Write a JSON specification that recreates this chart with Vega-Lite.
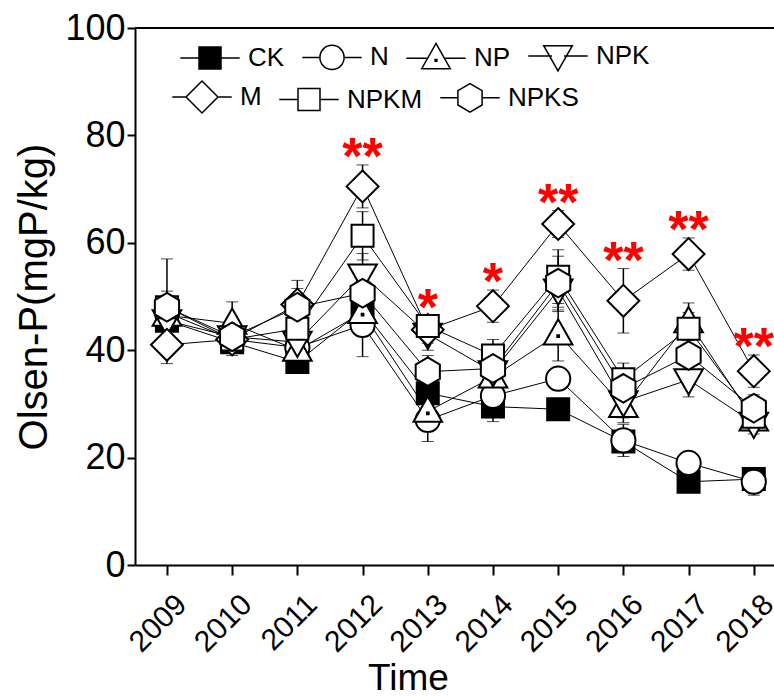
{
  "$schema": "https://vega.github.io/schema/vega-lite/v6.json",
  "autosize": {"type": "none"},
  "width": 639,
  "height": 537,
  "padding": {"left": 135, "top": 28, "right": 0, "bottom": 132},
  "background": "white",
  "config": {
    "font": "Liberation Sans",
    "view": {"stroke": null},
    "axis": {"grid": false, "domainColor": "black", "domainWidth": 2, "tickColor": "black", "tickWidth": 2, "labelColor": "black", "titleColor": "black", "titleFontWeight": "normal", "labelFont": "Liberation Sans", "titleFont": "Liberation Sans"},
    "legend": {"title": null, "orient": "none", "direction": "horizontal", "columnPadding": 14, "labelFontSize": 26, "labelFont": "Liberation Sans", "labelColor": "black", "labelOffset": 25, "symbolSize": 484, "labelLimit": 300}
  },
  "data": {"values": [
    {"treatment": "CK", "year": 2009, "value": 45.5, "sd": 2},
    {"treatment": "CK", "year": 2010, "value": 41.5, "sd": 1.5},
    {"treatment": "CK", "year": 2011, "value": 37.8, "sd": 1.5},
    {"treatment": "CK", "year": 2012, "value": 47.5, "sd": 3},
    {"treatment": "CK", "year": 2013, "value": 32, "sd": 3},
    {"treatment": "CK", "year": 2014, "value": 29.5, "sd": 2.8},
    {"treatment": "CK", "year": 2015, "value": 29, "sd": 1.5},
    {"treatment": "CK", "year": 2016, "value": 23, "sd": 2},
    {"treatment": "CK", "year": 2017, "value": 15.5, "sd": 1.5},
    {"treatment": "CK", "year": 2018, "value": 16, "sd": 1.8},
    {"treatment": "N", "year": 2009, "value": 47, "sd": 3},
    {"treatment": "N", "year": 2010, "value": 42, "sd": 2},
    {"treatment": "N", "year": 2011, "value": 40.5, "sd": 2},
    {"treatment": "N", "year": 2012, "value": 44.7, "sd": 5.9},
    {"treatment": "N", "year": 2013, "value": 27, "sd": 4},
    {"treatment": "N", "year": 2014, "value": 31.5, "sd": 2.5},
    {"treatment": "N", "year": 2015, "value": 34.7, "sd": 2},
    {"treatment": "N", "year": 2016, "value": 23.2, "sd": 3},
    {"treatment": "N", "year": 2017, "value": 19, "sd": 2},
    {"treatment": "N", "year": 2018, "value": 15.5, "sd": 2.5},
    {"treatment": "NP", "year": 2009, "value": 46.5, "sd": 3},
    {"treatment": "NP", "year": 2010, "value": 45, "sd": 4},
    {"treatment": "NP", "year": 2011, "value": 40, "sd": 3},
    {"treatment": "NP", "year": 2012, "value": 47, "sd": 3},
    {"treatment": "NP", "year": 2013, "value": 28.6, "sd": 3},
    {"treatment": "NP", "year": 2014, "value": 35, "sd": 3},
    {"treatment": "NP", "year": 2015, "value": 43, "sd": 5},
    {"treatment": "NP", "year": 2016, "value": 29.5, "sd": 3},
    {"treatment": "NP", "year": 2017, "value": 45.3, "sd": 3.5},
    {"treatment": "NP", "year": 2018, "value": 27, "sd": 2},
    {"treatment": "NPK", "year": 2009, "value": 45.5, "sd": 3},
    {"treatment": "NPK", "year": 2010, "value": 42.5, "sd": 2},
    {"treatment": "NPK", "year": 2011, "value": 41.5, "sd": 3},
    {"treatment": "NPK", "year": 2012, "value": 54, "sd": 4},
    {"treatment": "NPK", "year": 2013, "value": 43, "sd": 3},
    {"treatment": "NPK", "year": 2014, "value": 36, "sd": 3},
    {"treatment": "NPK", "year": 2015, "value": 51.2, "sd": 4},
    {"treatment": "NPK", "year": 2016, "value": 30.4, "sd": 3},
    {"treatment": "NPK", "year": 2017, "value": 34.5, "sd": 3.2},
    {"treatment": "NPK", "year": 2018, "value": 26.4, "sd": 2},
    {"treatment": "M", "year": 2009, "value": 41, "sd": 3.5},
    {"treatment": "M", "year": 2010, "value": 42, "sd": 3},
    {"treatment": "M", "year": 2011, "value": 48.5, "sd": 3},
    {"treatment": "M", "year": 2012, "value": 70.5, "sd": 4, "sig": "**"},
    {"treatment": "M", "year": 2013, "value": 43.8, "sd": 2.5, "sig": "*"},
    {"treatment": "M", "year": 2014, "value": 48.2, "sd": 3, "sig": "*"},
    {"treatment": "M", "year": 2015, "value": 63.5, "sd": 2.5, "sig": "**"},
    {"treatment": "M", "year": 2016, "value": 49.2, "sd": 6, "sig": "**"},
    {"treatment": "M", "year": 2017, "value": 57.9, "sd": 3, "sig": "**"},
    {"treatment": "M", "year": 2018, "value": 36.1, "sd": 3, "sig": "**"},
    {"treatment": "NPKM", "year": 2009, "value": 48, "sd": 3},
    {"treatment": "NPKM", "year": 2010, "value": 42, "sd": 2.5},
    {"treatment": "NPKM", "year": 2011, "value": 44, "sd": 3},
    {"treatment": "NPKM", "year": 2012, "value": 61.3, "sd": 4.5},
    {"treatment": "NPKM", "year": 2013, "value": 44.5, "sd": 2},
    {"treatment": "NPKM", "year": 2014, "value": 39, "sd": 3},
    {"treatment": "NPKM", "year": 2015, "value": 53.7, "sd": 5},
    {"treatment": "NPKM", "year": 2016, "value": 34.6, "sd": 3},
    {"treatment": "NPKM", "year": 2017, "value": 44, "sd": 3},
    {"treatment": "NPKM", "year": 2018, "value": 27.6, "sd": 2.5},
    {"treatment": "NPKS", "year": 2009, "value": 48, "sd": 9},
    {"treatment": "NPKS", "year": 2010, "value": 42.5, "sd": 3},
    {"treatment": "NPKS", "year": 2011, "value": 48, "sd": 5},
    {"treatment": "NPKS", "year": 2012, "value": 50.6, "sd": 4},
    {"treatment": "NPKS", "year": 2013, "value": 36, "sd": 3},
    {"treatment": "NPKS", "year": 2014, "value": 36.6, "sd": 3},
    {"treatment": "NPKS", "year": 2015, "value": 52.5, "sd": 5},
    {"treatment": "NPKS", "year": 2016, "value": 32.9, "sd": 3},
    {"treatment": "NPKS", "year": 2017, "value": 39, "sd": 3},
    {"treatment": "NPKS", "year": 2018, "value": 29.2, "sd": 2.5}
  ]},
  "layer": [
    {
      "mark": {"type": "rule", "color": "black", "strokeWidth": 2},
      "encoding": {
        "y": {"datum": 100, "type": "quantitative", "title": "Olsen-P(mgP/kg)"}
      }
    },
    {
      "mark": {"type": "line", "color": "black", "strokeWidth": 1},
      "encoding": {
        "x": {"field": "year", "type": "quantitative", "scale": {"domain": [2008.51, 2018.31], "nice": false, "zero": false},
          "axis": {"values": [2009, 2010, 2011, 2012, 2013, 2014, 2015, 2016, 2017, 2018], "format": "d", "labelAngle": -45, "labelFontSize": 30, "tickSize": 10, "labelPadding": 14, "labelOffset": 4, "titleFontSize": 37, "titleX": 273, "titleY": 124, "titleBaseline": "alphabetic", "titleAnchor": "middle", "titleAlign": "center", "labelFlush": false, "labelOverlap": false},
          "title": "Time"},
        "y": {"field": "value", "type": "quantitative", "scale": {"domain": [0, 100], "nice": false},
          "axis": {"values": [0, 20, 40, 60, 80, 100], "labelFontSize": 36, "tickSize": 8, "labelPadding": 2, "titleFontSize": 40, "titlePadding": 10, "labelFlush": false},
          "title": "Olsen-P(mgP/kg)"},
        "detail": {"field": "treatment"}
      }
    },
    {
      "mark": {"type": "errorbar", "ticks": {"size": 12, "color": "black", "strokeWidth": 1.5}, "rule": {"color": "black", "strokeWidth": 1.5}},
      "encoding": {
        "x": {"field": "year", "type": "quantitative", "title": "Time"},
        "y": {"field": "value", "type": "quantitative", "title": "Olsen-P(mgP/kg)"},
        "yError": {"field": "sd"},
        "detail": {"field": "treatment"}
      }
    },
    {
      "mark": {"type": "point", "filled": false, "stroke": "black", "strokeWidth": 2, "size": 484, "opacity": 1},
      "encoding": {
        "x": {"field": "year", "type": "quantitative", "title": "Time"},
        "y": {"field": "value", "type": "quantitative", "title": "Olsen-P(mgP/kg)"},
        "shape": {"field": "treatment", "type": "nominal", "legend": null,
          "scale": {"domain": ["CK", "N", "NP", "NPK", "M", "NPKM", "NPKS"],
            "range": [
              "M-1,-1H1V1H-1Z",
              "M-1.1,0A1.1,1.1,0,1,1,1.1,0A1.1,1.1,0,1,1,-1.1,0Z",
              "M0,-1.35L1.3,0.95H-1.3ZM-0.08,0.1h0.16v0.16h-0.16Z",
              "M0,1.35L1.3,-0.95H-1.3Z",
              "M0,-1.45L1.45,0L0,1.45L-1.45,0Z",
              "M-1,-1H1V1H-1Z",
              "M0,-1.3L1.1,-0.65V0.65L0,1.3L-1.1,0.65V-0.65Z"
            ]}},
        "fill": {"field": "treatment", "type": "nominal", "legend": null,
          "scale": {"domain": ["CK", "N", "NP", "NPK", "M", "NPKM", "NPKS"], "range": ["black", "white", "white", "white", "white", "white", "white"]}}
      }
    },
    {
      "transform": [{"filter": {"field": "treatment", "oneOf": ["CK", "N", "NP", "NPK"]}}],
      "mark": {"type": "point", "filled": false, "stroke": "black", "strokeWidth": 1.5, "size": 484, "opacity": 0},
      "encoding": {
        "x": {"field": "year", "type": "quantitative", "title": "Time"},
        "y": {"field": "value", "type": "quantitative", "title": "Olsen-P(mgP/kg)"},
        "shape": {"field": "treatment", "type": "nominal",
          "scale": {"domain": ["CK", "N", "NP", "NPK"],
            "range": [
              "M-2.7,0H-1M1,0H2.7M-1,-1H1V1H-1ZM-1,-0.96H1M-1,-0.84H1M-1,-0.72H1M-1,-0.6H1M-1,-0.48H1M-1,-0.36H1M-1,-0.24H1M-1,-0.12H1M-1,0H1M-1,0.12H1M-1,0.24H1M-1,0.36H1M-1,0.48H1M-1,0.6H1M-1,0.72H1M-1,0.84H1M-1,0.96H1",
              "M-2.7,0H-1.1M1.1,0H2.7M-1.1,0A1.1,1.1,0,1,1,1.1,0A1.1,1.1,0,1,1,-1.1,0Z",
              "M-2.7,0H-0.7M0.7,0H2.7M0,-1.35L1.3,0.95H-1.3ZM-0.08,0.1h0.16v0.16h-0.16Z",
              "M-2.7,0H-0.55M0.55,0H2.7M0,1.35L1.3,-0.95H-1.3Z"
            ]},
          "legend": {"legendX": 62, "legendY": 15,
            "encode": {"symbols": {"update": {"opacity": {"value": 1}, "fill": {"value": "white"}, "stroke": {"value": "black"}, "strokeWidth": {"value": 1.5}}}}}}
      }
    },
    {
      "transform": [{"filter": {"field": "treatment", "oneOf": ["M", "NPKM", "NPKS"]}}],
      "mark": {"type": "point", "filled": false, "stroke": "black", "strokeWidth": 1.5, "size": 484, "opacity": 0},
      "encoding": {
        "x": {"field": "year", "type": "quantitative", "title": "Time"},
        "y": {"field": "value", "type": "quantitative", "title": "Olsen-P(mgP/kg)"},
        "shape": {"field": "treatment", "type": "nominal",
          "scale": {"domain": ["M", "NPKM", "NPKS"],
            "range": [
              "M-2.7,0H-1.45M1.45,0H2.7M0,-1.45L1.45,0L0,1.45L-1.45,0Z",
              "M-2.7,0H-1M1,0H2.7M-1,-1H1V1H-1Z",
              "M-2.7,0H-1.1M1.1,0H2.7M0,-1.3L1.1,-0.65V0.65L0,1.3L-1.1,0.65V-0.65Z"
            ]},
          "legend": {"legendX": 54, "legendY": 56,
            "encode": {"symbols": {"update": {"opacity": {"value": 1}, "fill": {"value": "white"}, "stroke": {"value": "black"}, "strokeWidth": {"value": 1.5}}}}}}
      }
    },
    {
      "transform": [{"filter": "isValid(datum.sig)"}, {"calculate": "datum.value + datum.sd", "as": "upper"}],
      "mark": {"type": "text", "color": "#ff0000", "fontSize": 52, "fontWeight": "bold", "baseline": "alphabetic", "align": "center", "dy": 9},
      "encoding": {
        "x": {"field": "year", "type": "quantitative", "title": "Time"},
        "y": {"field": "upper", "type": "quantitative", "title": "Olsen-P(mgP/kg)"},
        "text": {"field": "sig"}
      }
    }
  ],
  "resolve": {"scale": {"shape": "independent", "fill": "independent"}, "legend": {"shape": "independent", "fill": "independent"}}
}
